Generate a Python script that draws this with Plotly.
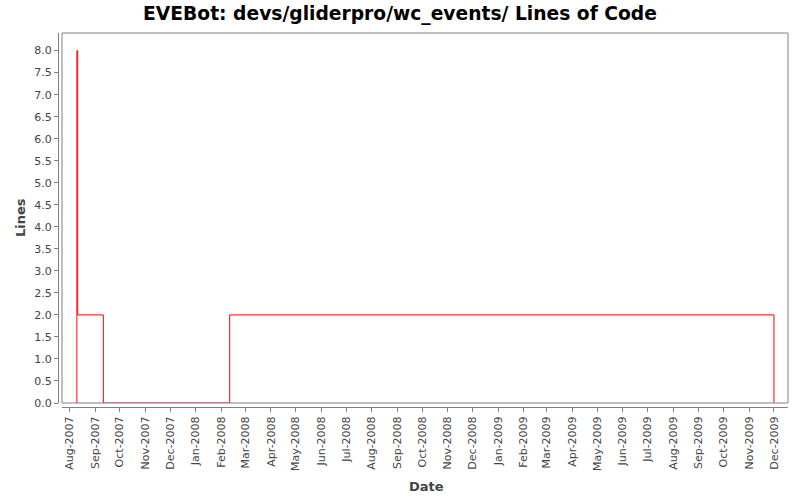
import plotly.graph_objects as go

dates = ['2007-08-10', '2007-08-10', '2007-08-11', '2007-09-11', '2008-02-11', '2009-12-01']
lines = [0, 8, 2, 0, 2, 0]
title = "EVEBot: devs/gliderpro/wc_events/ Lines of Code"
y_ticks = [i * 0.5 for i in range(17)]

font = "DejaVu Sans, Lucida Sans, sans-serif"
fig = go.Figure()
fig.add_trace(go.Scatter(x=dates, y=lines, mode="lines", line=dict(color="#ff0000", width=1, shape="hv"),
                         showlegend=False, hoverinfo="skip"))

fig.update_layout(
    width=800, height=500,
    paper_bgcolor="white", plot_bgcolor="white",
    margin=dict(l=58, r=12, t=33, b=93),
    title=dict(text=title, x=0.5, xanchor="center", y=0.973, yanchor="middle",
               font=dict(family=font, size=18.7, color="black", weight="bold")),
    xaxis=dict(domain=[0.0055, 1], anchor="free", position=0,
               range=["2007-07-23", "2009-12-18"],
               tick0="2007-08-01", dtick="M1", tickformat="%b-%Y", tickangle=-90,
               ticks="outside", ticklen=4, tickcolor="#808080", showline=True, linecolor="#808080",
               showgrid=False, zeroline=False,
               tickfont=dict(family=font, size=11, color="#444444")),
    yaxis=dict(domain=[0.0107, 1], anchor="free", position=0,
               range=[0, 8.4], tickvals=y_ticks, tickformat=".1f",
               ticks="outside", ticklen=4, tickcolor="#808080", showline=True, linecolor="#808080",
               showgrid=False, zeroline=False,
               tickfont=dict(family=font, size=11, color="#444444")),
    shapes=[dict(type="rect", xref="x domain", yref="y domain", x0=0, x1=1, y0=0, y1=1,
                 line=dict(color="#808080", width=1), layer="above")],
    annotations=[
        dict(text="<b>Date</b>", xref="paper", yref="paper", x=(426 - 58) / 730, y=(407 - 486) / 374,
             showarrow=False, xanchor="center", yanchor="middle",
             font=dict(family=font, size=13, color="#444444")),
        dict(text="<b>Lines</b>", xref="paper", yref="paper", x=(20 - 58) / 730, y=(407 - 218) / 374,
             showarrow=False, xanchor="center", yanchor="middle", textangle=-90,
             font=dict(family=font, size=13, color="#444444")),
    ],
)

fig.write_html("out.html")
